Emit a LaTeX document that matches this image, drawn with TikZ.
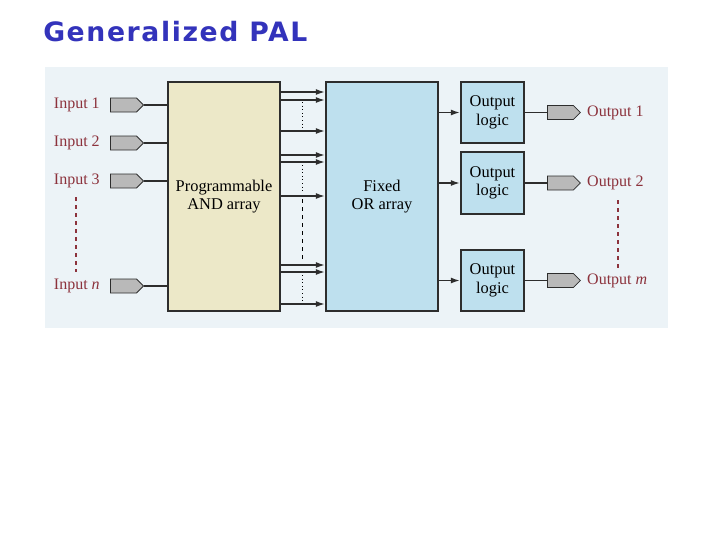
\documentclass[tikz,border=0pt]{standalone}
\usepackage{fontspec}
\setmainfont{Liberation Serif}
\newfontfamily\titlefont[LetterSpace=6]{DejaVu Sans}
\usetikzlibrary{shapes.symbols,arrows.meta}
\definecolor{titleblue}{RGB}{51,51,187}
\definecolor{lblred}{RGB}{140,50,60}
\definecolor{bgpanel}{RGB}{236,243,247}
\definecolor{andfill}{RGB}{236,232,200}
\definecolor{orfill}{RGB}{190,224,238}
\definecolor{linedark}{RGB}{45,45,45}
\tikzset{
  blockbox/.style={draw=linedark,line width=1.2pt,inner sep=0pt,align=center,font=\fontsize{12.3}{14}\selectfont},
  padnode/.style={signal,signal to=east,draw=linedark,fill=gray!55,line width=0.6pt,minimum width=24.75pt,minimum height=10.5pt,inner sep=0pt},
  lbl/.style={text=lblred,font=\fontsize{12}{14}\selectfont,inner sep=0pt},
  wire/.style={draw=linedark,line width=1.3pt},
  arr/.style={draw=linedark,line width=1.3pt,-{Latex[length=7pt,width=4.5pt]}},
}
\begin{document}
\begin{tikzpicture}[x=0.75pt,y=-0.75pt]
\useasboundingbox (0,0) rectangle (720,540);
\node[font=\titlefont\bfseries\fontsize{20}{24}\selectfont,text=titleblue,anchor=west,inner sep=0pt] (title) at (43,32) {Generalized PAL};
\fill[bgpanel] (45,67) rectangle (668,328);
% main blocks
\node[blockbox,fill=andfill,minimum width=84pt,minimum height=171.75pt] (and) at (224,196.5) {Programmable\\AND array};
\node[blockbox,fill=orfill,minimum width=84pt,minimum height=171.75pt] (or) at (382,196.5) {Fixed\\OR array};
\node[blockbox,fill=orfill,minimum width=47.25pt,minimum height=45.75pt] (ol1) at (492.5,112.5) {Output\\logic};
\node[blockbox,fill=orfill,minimum width=47.25pt,minimum height=46.5pt] (ol2) at (492.5,183) {Output\\logic};
\node[blockbox,fill=orfill,minimum width=47.25pt,minimum height=45.75pt] (ol3) at (492.5,280.5) {Output\\logic};
% inputs
\foreach \i/\y/\t in {1/105/Input 1,2/143/Input 2,3/181/Input 3,4/286/Input \textit{n}}{
  \node[padnode] (in\i) at (123.5,\y) {};
  \node[lbl,anchor=east] (inl\i) at (100,\y) {\t};
  \draw[wire] (in\i.east) -- (and.west |- in\i.east);
}
\draw[lblred,dashed,line width=0.8pt] (76,197) -- (76,272);
% AND to OR arrows
\foreach \y in {92,100,131,155,162,196,265,272,304}{
  \coordinate (r\y) at (300,\y);
  \draw[arr] (and.east |- r\y) -- (or.west |- r\y);
}
\draw[dotted,line width=0.7pt] (302,102) -- (302,129);
\draw[dotted,line width=0.7pt] (302,165) -- (302,193);
\draw[dashed,line width=0.7pt] (302,199) -- (302,262);
\draw[dotted,line width=0.7pt] (302,275) -- (302,302);
% OR to output logic
\foreach \k in {1,2,3}{
  \draw[arr] (or.east |- ol\k.west) -- (ol\k.west);
}
% outputs
\foreach \k/\t in {1/Output 1,2/Output 2,3/Output \textit{m}}{
  \node[padnode,anchor=west] (out\k) at (547,0 |- ol\k.west) {};
  \draw[wire] (ol\k.east) -- (out\k.west);
  \node[lbl,anchor=west] (outl\k) at ([xshift=4.5pt]out\k.east) {\t};
}
\draw[lblred,dashed,line width=0.8pt] (618,200) -- (618,268);
\end{tikzpicture}
\end{document}
